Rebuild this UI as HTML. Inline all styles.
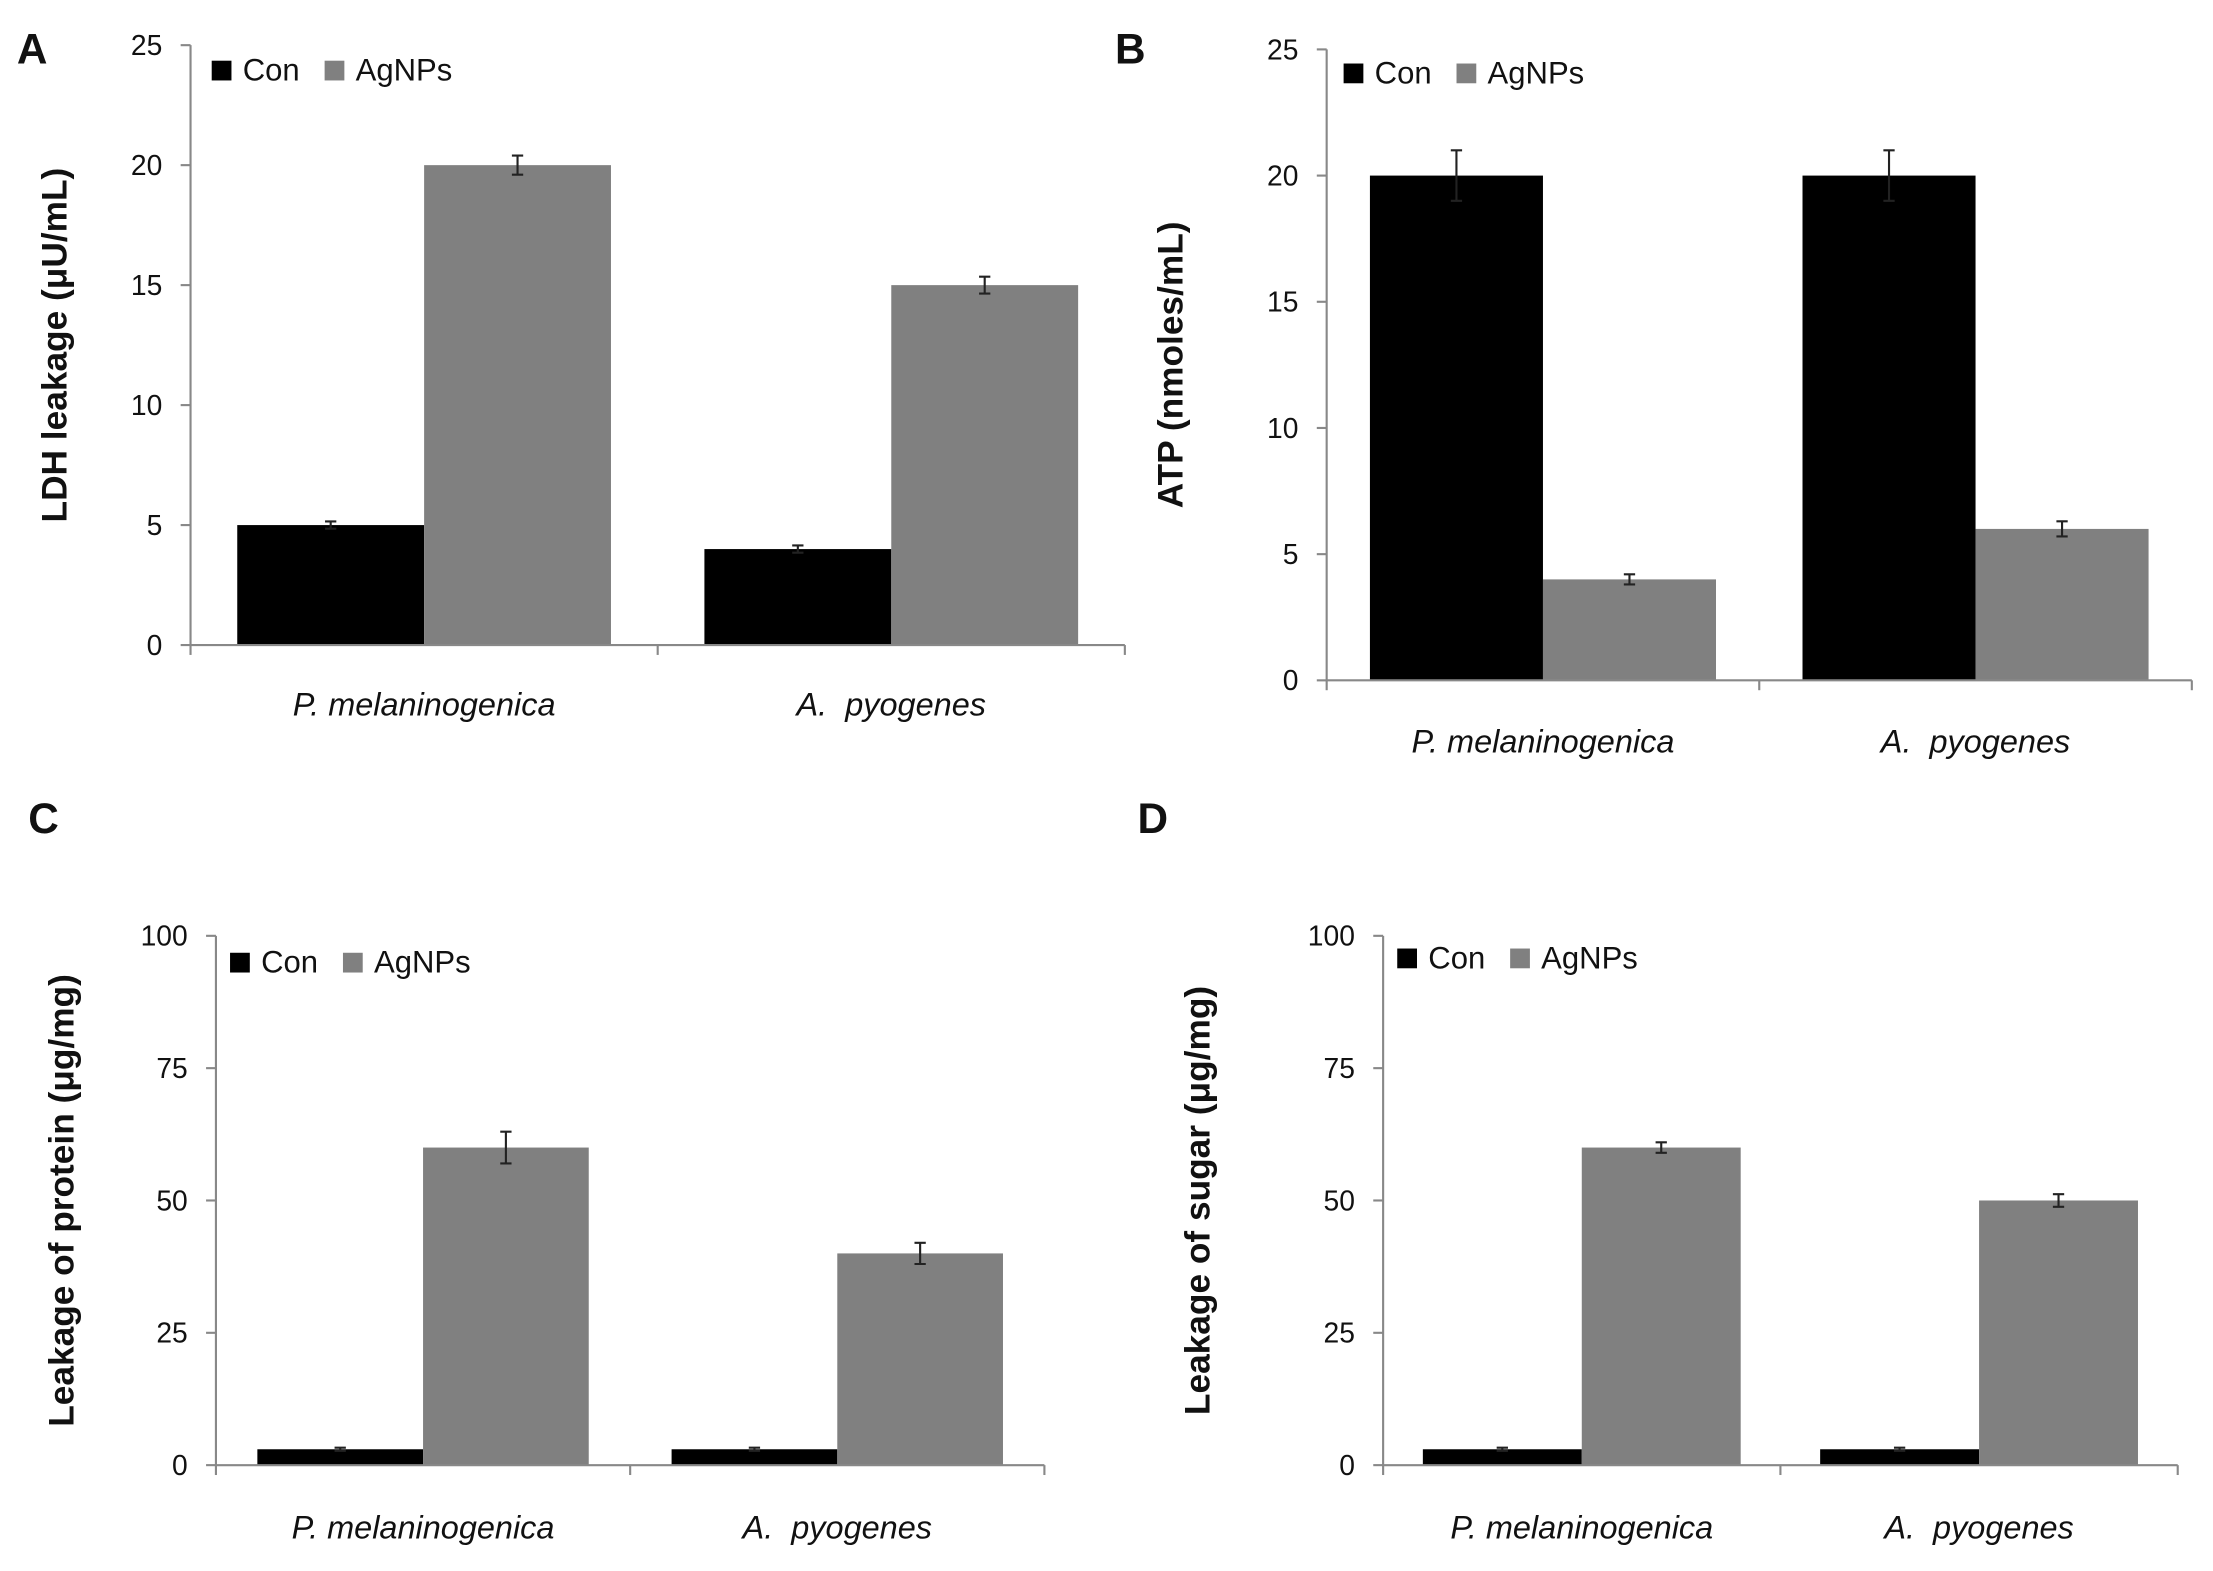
<!DOCTYPE html>
<html><head><meta charset="utf-8"><style>
html,body{margin:0;padding:0;background:#fff}
svg{display:block}
text{font-family:"Liberation Sans","Noto Sans CJK KR",sans-serif;fill:#111}
</style></head><body>
<svg id="fig" width="2213" height="1571" viewBox="0 0 1568 1113" preserveAspectRatio="none" xmlns="http://www.w3.org/2000/svg"></svg>
<script>
const categories = ["P. melaninogenica", "A.  pyogenes"];
const seriesNames = ["Con", "AgNPs"];
const conA = [5, 4], agA = [20, 15], conErrA = [0.15, 0.15], agErrA = [0.4, 0.35];
const conB = [20, 20], agB = [4, 6], conErrB = [1, 1], agErrB = [0.2, 0.3];
const conC = [3, 3], agC = [60, 40], conErrC = [0.3, 0.3], agErrC = [3, 2];
const conD = [3, 3], agD = [60, 50], conErrD = [0.3, 0.3], agErrD = [1, 1.2];
const ticksAB = [0, 5, 10, 15, 20, 25];
const ticksCD = [0, 25, 50, 75, 100];

const NS = "http://www.w3.org/2000/svg";
const svg = document.getElementById("fig");
function mk(tag, attrs, parent, txt){
  const e = document.createElementNS(NS, tag);
  for (const k in attrs) e.setAttribute(k, attrs[k]);
  if (txt !== undefined) e.textContent = txt;
  (parent || svg).appendChild(e);
  return e;
}
const panels = [
  {id:"a", letter:"A", lx:12, ly:45, x0:135, x1:797, y0:457, y1:32, max:25, ticks:ticksAB, con:conA, ag:agA, ce:conErrA, ae:agErrA, title:"LDH leakage (μU/mL)", tx:47, legX:150, legY:51, xlabY:507},
  {id:"b", letter:"B", lx:790, ly:45, x0:940, x1:1553, y0:482, y1:35, max:25, ticks:ticksAB, con:conB, ag:agB, ce:conErrB, ae:agErrB, title:"ATP (nmoles/mL)", tx:838, legX:952, legY:53, xlabY:533},
  {id:"c", letter:"C", lx:20, ly:590, x0:153, x1:740, y0:1038, y1:663, max:100, ticks:ticksCD, con:conC, ag:agC, ce:conErrC, ae:agErrC, title:"Leakage of protein (μg/mg)", tx:52, legX:163, legY:683, xlabY:1090},
  {id:"d", letter:"D", lx:806, ly:590, x0:980, x1:1543, y0:1038, y1:663, max:100, ticks:ticksCD, con:conD, ag:agD, ce:conErrD, ae:agErrD, title:"Leakage of sugar (μg/mg)", tx:857, legX:990, legY:680, xlabY:1090}
];
panels.forEach(p => {
  const g = mk("g", {});
  
  
  const yS = v => p.y0 - (v / p.max) * (p.y0 - p.y1);
  const gw = (p.x1 - p.x0) / categories.length;
  const bw = gw * 0.4;
  const lt = mk("text", {x:p.lx, y:p.ly, "font-size":30, "font-weight":"bold"}, g, p.letter);
  
  
  categories.forEach((c, i) => {
    const cx = p.x0 + gw * i + gw / 2;
    [[p.con, p.ce, "#000"], [p.ag, p.ae, "#808080"]].forEach((s, j) => {
      const v = s[0][i], e = s[1][i];
      const bx = j === 0 ? cx - bw : cx;
      const r = mk("rect", {x:bx, y:yS(v), width:bw, height:p.y0 - yS(v), fill:s[2]}, g);
      
      
      const ex = bx + bw / 2;
      const eb = mk("path", {d:`M${ex},${yS(v + e)}V${yS(v - e)}M${ex - 4},${yS(v + e)}H${ex + 4}M${ex - 4},${yS(v - e)}H${ex + 4}`, stroke:"#222", "stroke-width":1.5, fill:"none"}, g);
      
      
    });
    const xl = mk("text", {x:cx, y:p.xlabY, "font-size":23, "font-style":"italic", "text-anchor":"middle"}, g, c.replace(/ /g, "\u00a0"));
    
    
  });
  const ax = mk("path", {d:`M${p.x0},${p.y1}V${p.y0}H${p.x1}`, stroke:"#888", "stroke-width":1.5, fill:"none"}, g);
  
  
  for (let i = 0; i <= categories.length; i++) {
    const x = p.x0 + gw * i;
    mk("line", {x1:x, x2:x, y1:p.y0, y2:p.y0 + 7, stroke:"#888", "stroke-width":1.5}, g);
  }
  p.ticks.forEach(t => {
    const y = yS(t);
    mk("line", {x1:p.x0 - 7, x2:p.x0, y1:y, y2:y, stroke:"#888", "stroke-width":1.5}, g);
    const tl = mk("text", {x:p.x0 - 20, y:y + 7, "font-size":20, "text-anchor":"end"}, g, String(t));
    
    
  });
  const cy = (p.y0 + p.y1) / 2;
  const yt = mk("text", {x:p.tx, y:cy, "font-size":25, "font-weight":"bold", "text-anchor":"middle", transform:`rotate(-90 ${p.tx} ${cy})`}, g, p.title);
  
  
  const lg = mk("g", {}, g);
  
  
  mk("rect", {x:p.legX, y:p.legY - 8, width:14, height:14, fill:"#000"}, lg);
  mk("text", {x:p.legX + 22, y:p.legY + 6, "font-size":22}, lg, seriesNames[0]);
  mk("rect", {x:p.legX + 80, y:p.legY - 8, width:14, height:14, fill:"#808080"}, lg);
  mk("text", {x:p.legX + 102, y:p.legY + 6, "font-size":22}, lg, seriesNames[1]);
});
</script>
</body></html>
